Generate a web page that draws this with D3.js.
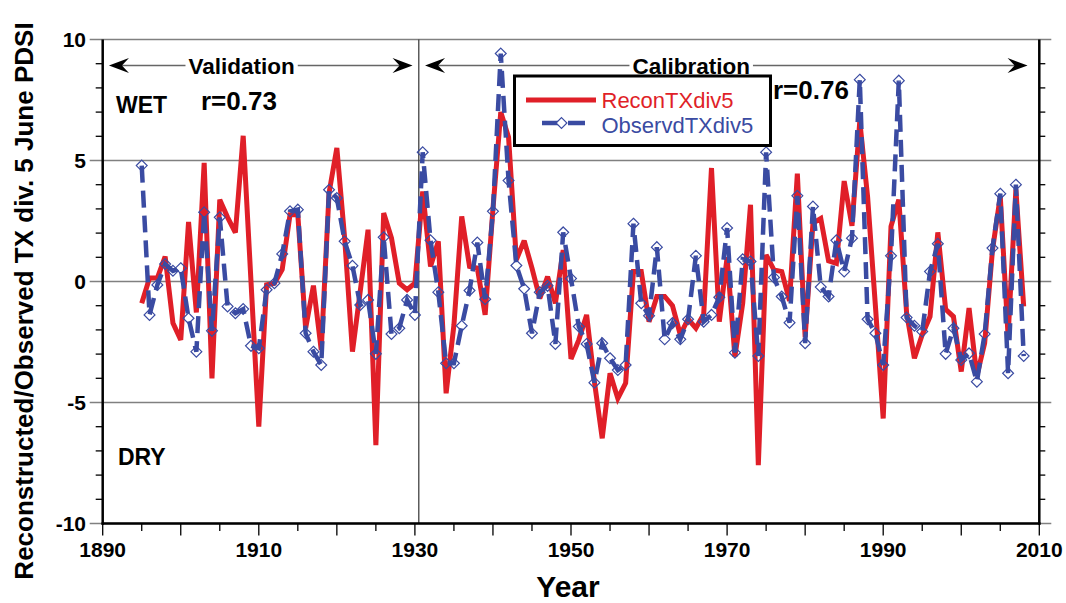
<!DOCTYPE html>
<html><head><meta charset="utf-8">
<script src="https://cdn.jsdelivr.net/npm/d3@7"></script>
<style>
body{margin:0;background:#fff}
svg{display:block}
text{font-family:"Liberation Sans", Arial, Helvetica, sans-serif}
</style>
</head><body>
<svg id="c" width="1066" height="603"></svg>
<script>
// ---------------- data ----------------
const firstYear = 1895, lastYear = 2008;
const years = d3.range(firstYear, lastYear + 1);
const recon = [
 -0.9, 0.14, 0.14, 1.03, -1.72, -2.41, 2.46, -1.28, 4.9, -4.0,
 3.38, 2.65, 2.02, 6.02, 0.0, -6.0, -0.14, -0.07, 0.5, 2.76,
 2.76, -1.93, -0.17, -2.83, 3.66, 5.52, 1.79, -2.9, -0.4, 2.14,
 -6.76, 2.83, 1.79, -0.07, -0.34, -0.07, 3.72, 0.62, 1.66, -4.62,
 -1.8, 2.69, 0.62, 0.55, -1.38, 3.0, 7.0, 5.96, 0.9, 1.69,
 0.55, -0.7, 0.2, -0.9, 1.3, -3.2, -2.41, -1.38, -4.14, -6.48,
 -3.79, -4.83, -4.2, 0.41, 0.41, -1.66, -0.62, -0.62, -1.0, -2.2,
 -1.55, -1.93, -1.35, 4.69, -1.66, 1.0, -3.1, -0.9, 3.17, -7.59,
 1.1, 0.48, 0.41, -0.8, 4.46, -2.3, 2.41, 2.6, 0.85, 0.75,
 4.15, 2.3, 6.62, 3.5, -1.0, -5.66, 2.28, 3.38, -1.3, -3.17,
 -2.2, -1.45, 2.03, -1.15, -1.45, -3.72, -1.1, -3.9, -2.55, 1.3,
 3.52, -2.25, 3.8, -1.03
];
const observed = [
 4.79, -1.38, -0.14, 0.72, 0.44, 0.55, -1.52, -2.9, 2.86, -2.04,
 2.65, -1.03, -1.31, -1.14, -2.66, -2.76, -0.34, -0.07, 1.14, 2.9,
 2.97, -2.14, -2.9, -3.45, 3.79, 3.45, 1.66, 0.65, -0.97, -0.76,
 -2.99, 1.83, -2.17, -1.93, -0.76, -1.38, 5.34, 1.7, -0.44, -3.38,
 -3.38, -1.83, -0.37, 1.61, -0.73, 2.9, 9.42, 4.17, 0.66, -0.3,
 -2.14, -0.44, -0.18, -2.58, 2.03, 0.12, -1.86, -2.58, -4.18, -2.55,
 -3.17, -3.66, -3.45, 2.39, -0.9, -1.42, 1.42, -2.39, -1.72, -2.39,
 -1.56, 1.06, -1.66, -1.38, -0.65, 2.21, -2.94, 0.92, 0.83, -3.08,
 5.34, 0.17, -0.62, -1.7, 3.54, -2.55, 3.1, -0.23, -0.62, 1.7,
 0.41, 1.79, 8.34, -1.56, -2.14, -3.45, 1.06, 8.3, -1.49, -1.83,
 -2.07, 0.41, 1.56, -2.99, -1.93, -3.24, -2.97, -4.14, -2.17, 1.38,
 3.63, -3.79, 4.0, -3.08
];
const seriesNames = ["ReconTXdiv5", "ObservdTXdiv5"];
const xLabelTicks = [1890, 1910, 1930, 1950, 1970, 1990, 2010];
const xMinorTicks = d3.range(1890, 2011, 5);
const yGridTicks = [-10, -5, 0, 5, 10];
const yMinorTicks = d3.range(-10, 11, 1);
const splitYear = 1930.5;
const periods = [
  {name: "Validation", from: 1890.8, to: 1929.7, label: 1907.8, r: "r=0.73"},
  {name: "Calibration", from: 1931.3, to: 2008.5, label: 1965.4, r: "r=0.76"}
];

// ---------------- layout ----------------
const RED = "#e01f28", BLUE = "#3a4ba2", GRID = "#808080";
const svg = d3.select("#c");
const x = d3.scaleLinear().domain([1890, 2010]).range([102.7, 1039.3]);
const y = d3.scaleLinear().domain([-10, 10]).range([523.5, 39.5]);
const x0 = x(1890), x1 = x(2010), yB = y(-10), yT = y(10);

// gridlines
svg.append("g").selectAll("line").data(yGridTicks).join("line")
  .attr("x1", x0 - 13).attr("x2", x1 + 12)
  .attr("y1", d => y(d)).attr("y2", d => y(d))
  .attr("stroke", GRID).attr("stroke-width", 1.6);

// split line
svg.append("line").attr("x1", x(splitYear)).attr("x2", x(splitYear))
  .attr("y1", yT).attr("y2", yB).attr("stroke", "#333").attr("stroke-width", 1.2);

// period arrows
const ay = 65.5;
function arrowHead(tipX, dir) {
  const p = d3.path();
  p.moveTo(tipX, ay);
  p.lineTo(tipX + dir * 20, ay - 7.5);
  p.lineTo(tipX + dir * 13, ay);
  p.lineTo(tipX + dir * 20, ay + 7.5);
  p.closePath();
  return p.toString();
}
periods.forEach(p => {
  svg.append("line").attr("x1", x(p.from) + 5).attr("x2", x(p.to) - 5)
    .attr("y1", ay).attr("y2", ay).attr("stroke", "#666").attr("stroke-width", 1.4);
  svg.append("path").attr("d", arrowHead(x(p.from), 1)).attr("fill", "#000");
  svg.append("path").attr("d", arrowHead(x(p.to), -1)).attr("fill", "#000");
  const t = svg.append("text").attr("x", x(p.label)).attr("y", ay + 8)
    .attr("text-anchor", "middle").attr("font-weight", "bold").attr("font-size", 22.5)
    .text(p.name);
  const bb = t.node().getBBox();
  svg.insert("rect", () => t.node()).attr("x", bb.x - 3).attr("y", ay - 3)
    .attr("width", bb.width + 6).attr("height", 6).attr("fill", "#fff");
});

// WET / DRY / r labels
svg.append("text").attr("x", 116).attr("y", 113).attr("font-weight", "bold")
  .attr("font-size", 23).text("WET");
svg.append("text").attr("x", 118).attr("y", 465).attr("font-weight", "bold")
  .attr("font-size", 23).text("DRY");
svg.append("text").attr("x", 201).attr("y", 110).attr("font-weight", "bold")
  .attr("font-size", 26).text(periods[0].r);
svg.append("text").attr("x", 773).attr("y", 98.5).attr("font-weight", "bold")
  .attr("font-size", 26).text(periods[1].r);

// series
const line = d3.line().x((d, i) => x(years[i])).y(d => y(d));
svg.append("path").datum(recon).attr("d", line)
  .attr("fill", "none").attr("stroke", RED).attr("stroke-width", 5)
  .attr("stroke-linejoin", "miter").attr("stroke-miterlimit", 3);
svg.append("path").datum(observed).attr("d", line)
  .attr("fill", "none").attr("stroke", BLUE).attr("stroke-width", 4.5)
  .attr("stroke-dasharray", "17,8");
const diamond = d3.symbol().type(d3.symbolDiamond2).size(75);
svg.append("g").selectAll("path").data(observed).join("path")
  .attr("transform", (d, i) => `translate(${x(years[i])},${y(d)})`)
  .attr("d", diamond).attr("fill", "none").attr("stroke", BLUE).attr("stroke-width", 1.2);

// legend
const lg = svg.append("g");
lg.append("rect").attr("x", 514.5).attr("y", 76).attr("width", 256).attr("height", 69.5)
  .attr("fill", "#fff").attr("stroke", "#000").attr("stroke-width", 3);
lg.append("line").attr("x1", 526).attr("x2", 596).attr("y1", 100).attr("y2", 100)
  .attr("stroke", RED).attr("stroke-width", 5);
lg.append("text").attr("x", 601.5).attr("y", 108).attr("font-size", 22)
  .attr("fill", RED).text(seriesNames[0]);
lg.append("line").attr("x1", 542).attr("x2", 592).attr("y1", 123).attr("y2", 123)
  .attr("stroke", BLUE).attr("stroke-width", 4.5).attr("stroke-dasharray", "17,9");
lg.append("path").attr("transform", "translate(561.5,123)").attr("d", diamond)
  .attr("fill", "#fff").attr("stroke", BLUE).attr("stroke-width", 1.2);
lg.append("text").attr("x", 601.5).attr("y", 133).attr("font-size", 22)
  .attr("fill", BLUE).text(seriesNames[1]);

// axes frame
const ax = svg.append("g").attr("stroke", "#000");
ax.append("line").attr("x1", x0).attr("x2", x0).attr("y1", yT).attr("y2", yB + 1.2).attr("stroke-width", 2.5);
ax.append("line").attr("x1", x1).attr("x2", x1).attr("y1", yT).attr("y2", yB + 1.2).attr("stroke-width", 2.5);
ax.append("line").attr("x1", x0 - 1.2).attr("x2", x1 + 1.2).attr("y1", yB).attr("y2", yB).attr("stroke-width", 2.5);
// y minor ticks
ax.append("g").selectAll("line").data(yMinorTicks.filter(v => v % 5 !== 0)).join("line")
  .attr("x1", x0 - 7).attr("x2", x0).attr("y1", d => y(d)).attr("y2", d => y(d)).attr("stroke-width", 1.3);
ax.append("g").selectAll("line").data(yMinorTicks.filter(v => v % 5 !== 0)).join("line")
  .attr("x1", x1).attr("x2", x1 + 6).attr("y1", d => y(d)).attr("y2", d => y(d)).attr("stroke-width", 1.3);
// x ticks
ax.append("g").selectAll("line").data(xMinorTicks).join("line")
  .attr("x1", d => x(d)).attr("x2", d => x(d))
  .attr("y1", yB).attr("y2", d => yB + (d % 10 === 0 ? 12 : 7.5)).attr("stroke-width", 1.3);

// tick labels
svg.append("g").selectAll("text").data(xLabelTicks).join("text")
  .attr("x", d => x(d)).attr("y", 557).attr("text-anchor", "middle")
  .attr("font-weight", "bold").attr("font-size", 21).text(d => d);
svg.append("g").selectAll("text").data(yGridTicks).join("text")
  .attr("x", 86).attr("y", d => y(d) + 7.5).attr("text-anchor", "end")
  .attr("font-weight", "bold").attr("font-size", 21).text(d => d);

// axis titles
svg.append("text").attr("x", 568).attr("y", 597).attr("text-anchor", "middle")
  .attr("font-weight", "bold").attr("font-size", 30).text("Year");
svg.append("text").attr("transform", "translate(33,301) rotate(-90)")
  .attr("text-anchor", "middle").attr("font-weight", "bold").attr("font-size", 26)
  .text("Reconstructed/Observed TX div. 5 June PDSI");
</script>
</body></html>
